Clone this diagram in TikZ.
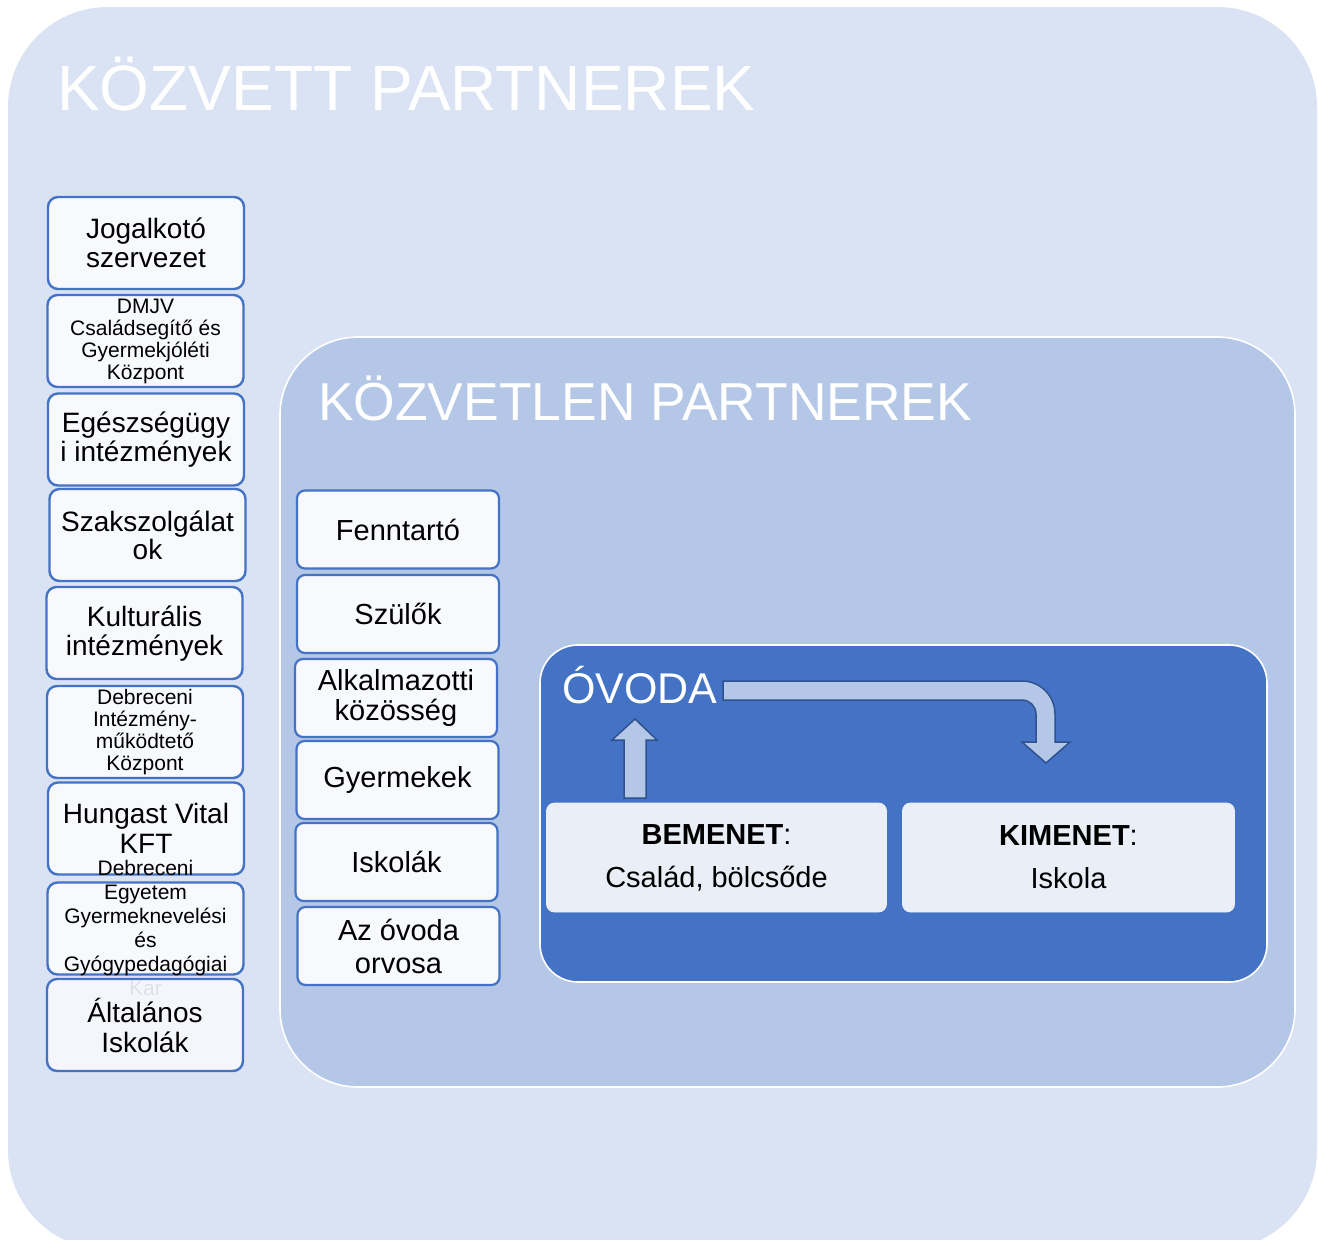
\documentclass[tikz,border=0pt]{standalone}
\usepackage{fontspec}
\setmainfont{Liberation Sans}
\definecolor{outerbg}{HTML}{DAE3F3}
\definecolor{midbg}{HTML}{B4C7E7}
\definecolor{ovbg}{HTML}{4472C4}
\definecolor{boxfill}{HTML}{F7F9FD}
\definecolor{iofill}{HTML}{E9EEF7}
\definecolor{arrline}{HTML}{2F528F}
\newcommand{\fsz}[2]{\fontsize{#1}{#2}\selectfont}
\begin{document}
\begin{tikzpicture}[x=1pt,y=-1pt,
  container/.style={inner sep=0pt, anchor=center},
  lbox/.style={draw=ovbg, line width=2.4pt, fill=boxfill, rounded corners=10pt,
    inner sep=0pt, align=center, text=black, minimum width=196pt, minimum height=92pt},
  mbox/.style={draw=ovbg, line width=2.2pt, fill=boxfill, rounded corners=8pt,
    inner sep=0pt, align=center, text=black, minimum width=202pt, minimum height=78pt,
    font=\fsz{29}{30}},
  iobox/.style={draw=iofill, line width=0.8pt, fill=iofill, rounded corners=8pt,
    inner sep=0pt, align=center, text=black, minimum height=109pt, font=\fsz{29}{43}},
  title/.style={anchor=base west, inner sep=0pt, text=white},
  blockarrow/.style={fill=midbg, draw=arrline, line width=1.5pt, line join=miter}
]
\useasboundingbox (0,0) rectangle (1318,1240);
\clip (0,0) rectangle (1318,1240);
\fill[white] (0,0) rectangle (1318,1240);

% outer container
\node[container, fill=outerbg, rounded corners=100pt, minimum width=1309pt, minimum height=1243pt] (outer) at (662.5,628.5) {};
\node[title, font=\fsz{64}{64}] (t1) at (57,110) {KÖZVETT PARTNEREK};

% left column
\node[lbox, font=\fsz{28}{29}] (jog) at (146,243) {Jogalkotó\\szervezet};
\node[lbox, font=\fsz{21}{22}] (dmjv) at (145.5,341) {DMJV\\Családsegítő és\\Gyermekjóléti\\Központ};
\node[lbox, font=\fsz{28}{29}] (egs) at (146,439.5) {Egészségügy\\i intézmények};
\node[lbox, font=\fsz{28}{28}] (szak) at (147.5,535) {Szakszolgálat\\ok};
\node[lbox, font=\fsz{28}{29}] (kult) at (144.5,633) {\rule{0pt}{22pt}Kulturális\\intézmények};
\node[lbox, font=\fsz{21}{22}] (dimk) at (145,732) {Debreceni\\Intézmény-\\működtető\\Központ};
\node[lbox, font=\fsz{28}{30}] (hung) at (146,828.5) {Hungast Vital\\KFT};
\node[lbox] (egy) at (145.5,928.5) {};
\node[inner sep=0pt, align=center, font=\fsz{21}{24}] (egyt) at (145.5,928) {Debreceni\\Egyetem\\Gyermeknevelési\\és\\Gyógypedagógiai\\Kar};
\node[lbox, fill opacity=0.9, text opacity=1, font=\fsz{28}{30}] (alt) at (145,1025) {Általános\\Iskolák};

% middle container
\node[container, fill=midbg, draw=white, line width=1.6pt, rounded corners=78pt, minimum width=1015pt, minimum height=750pt] (mid) at (787.5,712) {};
\node[title, font=\fsz{53.4}{54}] (t2) at (318,420) {KÖZVETLEN PARTNEREK};

\node[mbox] (fenn) at (398,529.5) {Fenntartó};
\node[mbox] (szul) at (398,614) {Szülők};
\node[mbox] (alk) at (396,698) {Alkalmazotti\\közösség};
\node[mbox] (gyer) at (397.5,780) {Gyermekek};
\node[mbox] (isk) at (396.5,862) {Iskolák};
\node[mbox, font=\fsz{29}{33}] (orv) at (398.5,946) {Az óvoda\\orvosa};

% inner container
\node[container, fill=ovbg, draw=white, line width=1.6pt, rounded corners=38pt, minimum width=727pt, minimum height=337pt] (ov) at (903.5,813.5) {};
\node[title, font=\fsz{43}{43}] (t3) at (562,703) {ÓVODA};

\node[iobox, minimum width=340pt] (be) at (716.5,857.5) {\textbf{BEMENET}:\\Család, bölcsőde};
\node[iobox, minimum width=332pt] (ki) at (1068.5,857.5) {\textbf{KIMENET}:\\Iskola};

% block arrows
\draw[blockarrow] (624,798) -- (624,740) -- (612,740) -- (635,719) -- (657,740) -- (646,740) -- (646,798) -- cycle;
\draw[blockarrow] (723,681) -- (1022,681)
  .. controls (1040.2,681) and (1055,695.8) .. (1055,714)
  -- (1055,742) -- (1070,742) -- (1046,763) -- (1022,742) -- (1036,742) -- (1036,714)
  .. controls (1036,706.3) and (1029.7,700) .. (1022,700)
  -- (723,700) -- cycle;
\end{tikzpicture}
\end{document}
